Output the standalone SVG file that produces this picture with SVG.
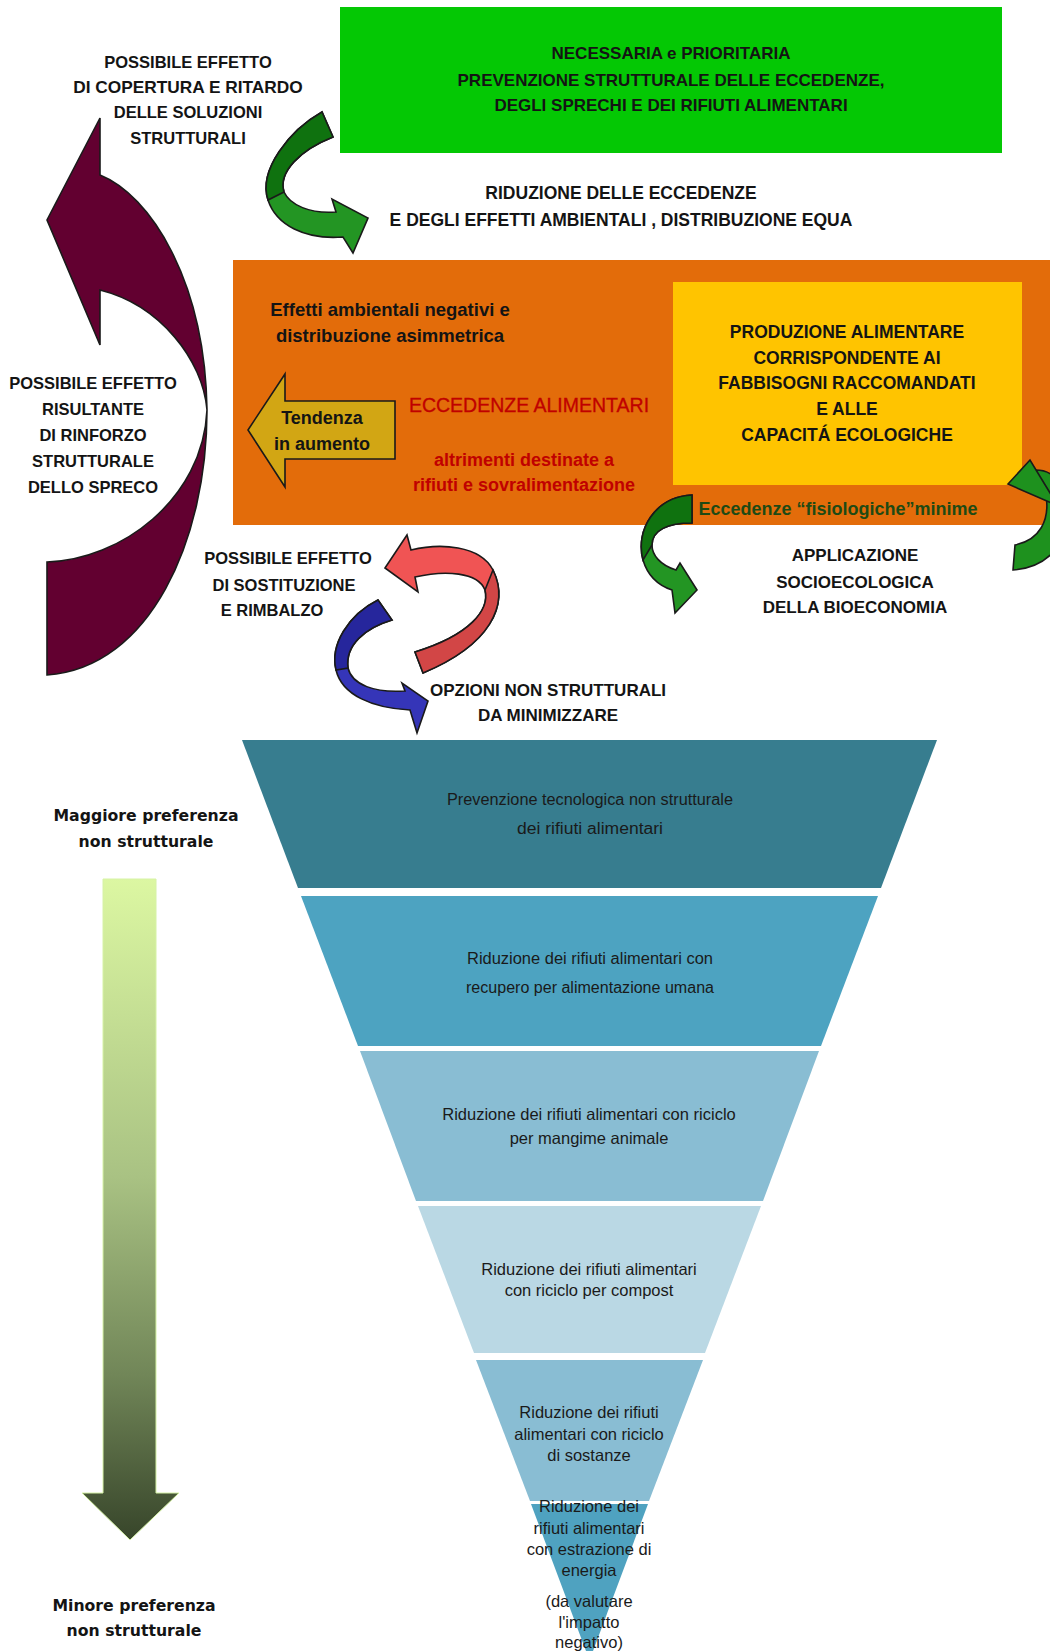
<svg xmlns="http://www.w3.org/2000/svg" width="1050" height="1651" viewBox="0 0 1050 1651">
<defs>
<style>
.b{font-family:"Liberation Sans",Arial,sans-serif;font-weight:bold;fill:#141414;text-anchor:middle}
.u{font-size:17px}
.l{font-size:18.5px}
.red{fill:#C00000}
.f{font-family:"Liberation Sans",Arial,sans-serif;font-size:16.5px;fill:#1a1a1a;text-anchor:middle}
.fc{font-size:16px}
.v{font-family:"DejaVu Sans",Verdana,sans-serif;font-weight:bold;font-size:15.7px;fill:#141414;text-anchor:middle}
.arr{stroke:#1a1a1a;stroke-width:1.6;stroke-linejoin:miter}
</style>
<linearGradient id="prefGrad" gradientUnits="userSpaceOnUse" x1="0" y1="879" x2="0" y2="1540">
<stop offset="0" stop-color="#DCF7A2"/>
<stop offset="0.45" stop-color="#A9C283"/>
<stop offset="0.75" stop-color="#718658"/>
<stop offset="1" stop-color="#37452A"/>
</linearGradient>
</defs>
<rect width="1050" height="1651" fill="#ffffff"/>

<!-- top green box -->
<g id="green-box">
<rect x="340" y="7" width="662" height="146" fill="#04C804"/>
<text class="b u" x="671" y="59">NECESSARIA e PRIORITARIA</text>
<text class="b u" x="671" y="86">PREVENZIONE STRUTTURALE DELLE ECCEDENZE,</text>
<text class="b u" x="671" y="111">DEGLI SPRECHI E DEI RIFIUTI ALIMENTARI</text>
</g>

<g id="label-copertura">
<text class="b" font-size="16.5" x="188" y="68">POSSIBILE EFFETTO</text>
<text class="b" font-size="17.3" x="188" y="93">DI COPERTURA E RITARDO</text>
<text class="b" font-size="16.5" x="188" y="118">DELLE SOLUZIONI</text>
<text class="b" font-size="16.5" x="188" y="144">STRUTTURALI</text>
</g>

<g id="label-riduzione">
<text class="b" font-size="17.5" x="621" y="199">RIDUZIONE DELLE ECCEDENZE</text>
<text class="b" font-size="17.5" x="621" y="226">E DEGLI EFFETTI AMBIENTALI , DISTRIBUZIONE EQUA</text>
</g>

<!-- orange box -->
<g id="orange-box">
<rect x="233" y="260" width="817" height="265" fill="#E36C0A"/>
<text class="b l" x="390" y="316">Effetti ambientali negativi e</text>
<text class="b l" x="390" y="342">distribuzione asimmetrica</text>
<text x="529" y="412" font-family="Liberation Sans, Arial, sans-serif" font-size="19.5" fill="#C00000" stroke="#C00000" stroke-width="0.3" text-anchor="middle">ECCEDENZE ALIMENTARI</text>
<text class="b red" font-size="18" x="524" y="466">altrimenti destinate a</text>
<text class="b red" font-size="18" x="524" y="491">rifiuti e sovralimentazione</text>
<text class="b" font-size="18" style="fill:#1E4A14" x="838" y="515">Eccedenze “fisiologiche”minime</text>
</g>

<g id="yellow-box">
<rect x="673" y="282" width="349" height="203" fill="#FFC400"/>
<text class="b" font-size="17.5" x="847" y="338">PRODUZIONE ALIMENTARE</text>
<text class="b" font-size="17.5" x="847" y="364">CORRISPONDENTE AI</text>
<text class="b" font-size="17.5" x="847" y="389">FABBISOGNI RACCOMANDATI</text>
<text class="b" font-size="17.5" x="847" y="415">E ALLE</text>
<text class="b" font-size="17.5" x="847" y="441">CAPACITÁ ECOLOGICHE</text>
</g>

<g id="tendenza">
<path class="arr" fill="#D2A614" d="M248,430 L285,374 L285,401 L395,401 L395,459 L285,459 L285,487 Z"/>
<text class="b" font-size="18" x="322" y="424">Tendenza</text>
<text class="b" font-size="18" x="322" y="450">in aumento</text>
</g>

<!-- connectors: curved arrows -->
<g id="connectors">
<path id="maroon-arrow" class="arr" fill="#620030" d="M100,118 L100,175 C150,195 205,280 207,410 C207,540 150,668 47,675 L47,562 C120,560 203,500 207,410 C203,360 160,305 100,290 L100,345 L47,220 Z"/>
<g id="green-arrow-top">
<path class="arr" fill="#239523" d="M322,112 C290,130 258,170 268,200 C276,225 305,240 343,237 L353,253 L368,218 L332,199 L336,212 C310,214 290,205 284,192 C278,172 300,150 333,137 Z"/>
<path class="arr" fill="#0F720F" stroke-width="1" d="M322,112 C290,130 258,170 268,200 L284,192 C278,172 300,150 333,137 Z"/>
</g>
<g id="green-arrow-left">
<path class="arr" fill="#239523" d="M692,495 C655,497 635,530 643,560 C648,577 660,586 672,590 L675,613 L697,590 L680,563 L676,570 C660,565 652,555 652,545 C652,530 668,523 692,523 Z"/>
<path class="arr" fill="#0F720F" stroke-width="1" d="M692,495 C655,497 635,530 643,560 L652,545 C652,530 668,523 692,523 Z"/>
</g>
<g id="green-arrow-right">
<path class="arr" fill="#1E911E" d="M1036,470 C1080,470 1085,565 1013,570 L1015,545 C1040,540 1050,520 1046,495 Z"/>
<path class="arr" fill="#1E911E" d="M1008,484 L1030,460 L1058,506 Z"/>
</g>
<g id="red-arrow">
<path class="arr" fill="#F05454" d="M385,568 L407,535 L411,550 C440,543 480,545 493,570 C510,605 490,645 423,673 L415,652 C470,635 490,610 485,590 C478,572 445,570 415,577 L418,592 Z"/>
<path class="arr" fill="#D24646" stroke-width="1" d="M493,570 C510,605 490,645 423,673 L415,652 C470,635 490,610 485,590 Z"/>
</g>
<g id="blue-arrow">
<path class="arr" fill="#3535B8" d="M378,600 C348,615 330,645 336,670 C342,695 372,708 410,710 L417,733 L428,701 L402,683 L405,691 C375,693 352,685 348,668 C345,645 365,628 392,620 Z"/>
<path class="arr" fill="#26269C" stroke-width="1" d="M378,600 C348,615 330,645 336,670 L348,668 C345,645 365,628 392,620 Z"/>
</g>
</g>

<g id="label-rinforzo">
<text class="b" font-size="16.5" x="93" y="389">POSSIBILE EFFETTO</text>
<text class="b" font-size="16.5" x="93" y="415">RISULTANTE</text>
<text class="b" font-size="16.5" x="93" y="441">DI RINFORZO</text>
<text class="b" font-size="16.5" x="93" y="467">STRUTTURALE</text>
<text class="b" font-size="16.5" x="93" y="493">DELLO SPRECO</text>
</g>

<g id="label-bioeconomia">
<text class="b" font-size="17" x="855" y="561">APPLICAZIONE</text>
<text class="b" font-size="17" x="855" y="588">SOCIOECOLOGICA</text>
<text class="b" font-size="17" x="855" y="613">DELLA BIOECONOMIA</text>
</g>

<g id="label-sostituzione">
<text class="b" font-size="16.5" x="288" y="564">POSSIBILE EFFETTO</text>
<text class="b" font-size="16.5" x="284" y="591">DI SOSTITUZIONE</text>
<text class="b" font-size="16.5" x="272" y="616">E RIMBALZO</text>
</g>

<g id="label-opzioni">
<text class="b" font-size="17" x="548" y="696">OPZIONI NON STRUTTURALI</text>
<text class="b" font-size="17" x="548" y="721">DA MINIMIZZARE</text>
</g>

<!-- funnel -->
<g id="funnel-1">
<polygon points="242,740 937,740 881,888 298,888" fill="#377D8F"/>
<text class="f fc" x="590" y="805" textLength="286" lengthAdjust="spacingAndGlyphs">Prevenzione tecnologica non strutturale</text>
<text class="f fc" x="590" y="834" textLength="146" lengthAdjust="spacingAndGlyphs">dei rifiuti alimentari</text>
</g>
<g id="funnel-2">
<polygon points="301,896 878,896 821,1046 358,1046" fill="#4DA3C1"/>
<text class="f fc" x="590" y="964" textLength="246" lengthAdjust="spacingAndGlyphs">Riduzione dei rifiuti alimentari con</text>
<text class="f fc" x="590" y="993" textLength="248" lengthAdjust="spacingAndGlyphs">recupero per alimentazione umana</text>
</g>
<g id="funnel-3">
<polygon points="360,1051 819,1051 763,1201 416,1201" fill="#89BDD3"/>
<text class="f" x="589" y="1120">Riduzione dei rifiuti alimentari con riciclo</text>
<text class="f" x="589" y="1144">per mangime animale</text>
</g>
<g id="funnel-4">
<polygon points="418,1206 761,1206 705,1353 474,1353" fill="#BAD8E4"/>
<text class="f" x="589" y="1275">Riduzione dei rifiuti alimentari</text>
<text class="f" x="589" y="1296">con riciclo per compost</text>
</g>
<g id="funnel-5">
<polygon points="476,1360 703,1360 649,1501 530,1501" fill="#89BDD3"/>
<text class="f" x="589" y="1418">Riduzione dei rifiuti</text>
<text class="f" x="589" y="1440">alimentari con riciclo</text>
<text class="f" x="589" y="1461">di sostanze</text>
</g>
<g id="funnel-6">
<polygon points="531,1504 648,1504 593,1651 586,1651" fill="#4FA2C0"/>
<text class="f" x="589" y="1512">Riduzione dei</text>
<text class="f" x="589" y="1534">rifiuti alimentari</text>
<text class="f" x="589" y="1555">con estrazione di</text>
<text class="f" x="589" y="1576">energia</text>
<text class="f" x="589" y="1607">(da valutare</text>
<text class="f" x="589" y="1628">l'impatto</text>
<text class="f" x="589" y="1648">negativo)</text>
</g>

<!-- preference arrow -->
<g id="pref-arrow">
<path d="M103,879 L156,879 L156,1493 L179,1493 L130,1540 L82,1493 L103,1493 Z" fill="url(#prefGrad)" stroke="#D6F2A6" stroke-width="1"/>
<text class="v" x="146" y="821">Maggiore preferenza</text>
<text class="v" x="146" y="847">non strutturale</text>
<text class="v" x="134" y="1611">Minore preferenza</text>
<text class="v" x="134" y="1636">non strutturale</text>
</g>
</svg>
